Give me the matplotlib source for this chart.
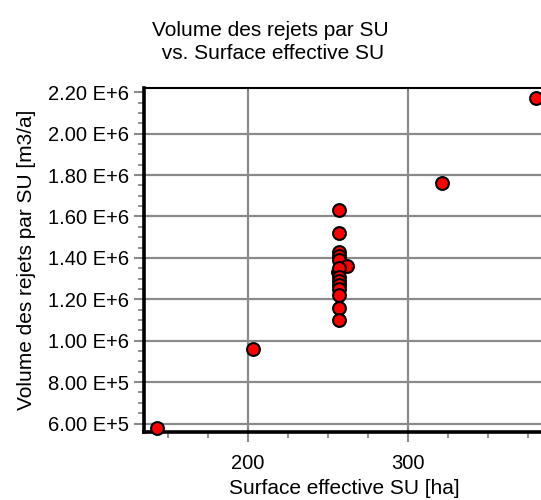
import matplotlib.pyplot as plt
from matplotlib.ticker import FixedLocator, MultipleLocator

plt.rcParams['font.family'] = ['Liberation Sans', 'DejaVu Sans']

# data
surface = [143, 203, 257, 257, 257, 257, 257, 262, 256, 257, 257, 257, 257,
           257, 257, 257, 257, 321, 380]
volume = [580000, 960000, 1630000, 1520000, 1430000, 1410000, 1390000,
          1360000, 1330000, 1350000, 1310000, 1290000, 1270000, 1250000,
          1220000, 1160000, 1100000, 1760000, 2170000]

x_ticks = [200, 300]
x_tick_labels = ["200", "300"]
y_ticks = [600000, 800000, 1000000, 1200000, 1400000, 1600000, 1800000,
           2000000, 2200000]
y_tick_labels = ["6.00 E+5", "8.00 E+5", "1.00 E+6", "1.20 E+6", "1.40 E+6",
                 "1.60 E+6", "1.80 E+6", "2.00 E+6", "2.20 E+6"]

W, H = 541, 500
fig = plt.figure(figsize=(W / 100, H / 100), dpi=100)
# axes placed in pixels: left 144, right ~544, bottom 432, top 87.5
ax = fig.add_axes([144 / W, (H - 432) / H, 400 / W, 344.5 / H])

ax.scatter(surface, volume, s=85, facecolor="#ff0000", edgecolor="black",
           linewidth=1.5, zorder=4, clip_on=False)

ax.set_xlim(135, 385)
ax.set_ylim(559000, 2223000)

ax.xaxis.set_major_locator(FixedLocator(x_ticks))
ax.set_xticklabels(x_tick_labels)
ax.xaxis.set_minor_locator(MultipleLocator(25))
ax.yaxis.set_major_locator(FixedLocator(y_ticks))
ax.set_yticklabels(y_tick_labels)
ax.yaxis.set_minor_locator(MultipleLocator(50000))

grey = "#8a8a8a"
ax.grid(True, which="major", color=grey, linewidth=1.6, zorder=1)
ax.set_axisbelow(True)
ax.yaxis.get_gridlines()[-1].set_visible(False)

ax.tick_params(which="major", length=7.5, width=1.5, color=grey,
               labelsize=14.5, pad=3)
ax.tick_params(axis="x", which="major", pad=8)
ax.tick_params(which="minor", length=4.5, width=1.3, color=grey)

for side in ["left", "bottom"]:
    ax.spines[side].set_linewidth(2.6)
    ax.spines[side].set_zorder(3)
ax.spines["top"].set_linewidth(1.5)
ax.spines["right"].set_visible(False)

ax.set_xlabel("Surface effective SU [ha]", fontsize=15, labelpad=5)
ax.set_ylabel("Volume des rejets par SU [m3/a]", fontsize=15, labelpad=9)

fig.text(270 / W, 1 - 42 / H, "Volume des rejets par SU\n vs. Surface effective SU",
         ha="center", va="center", fontsize=15, linespacing=1.3)

fig.savefig("out.png", dpi=100)
